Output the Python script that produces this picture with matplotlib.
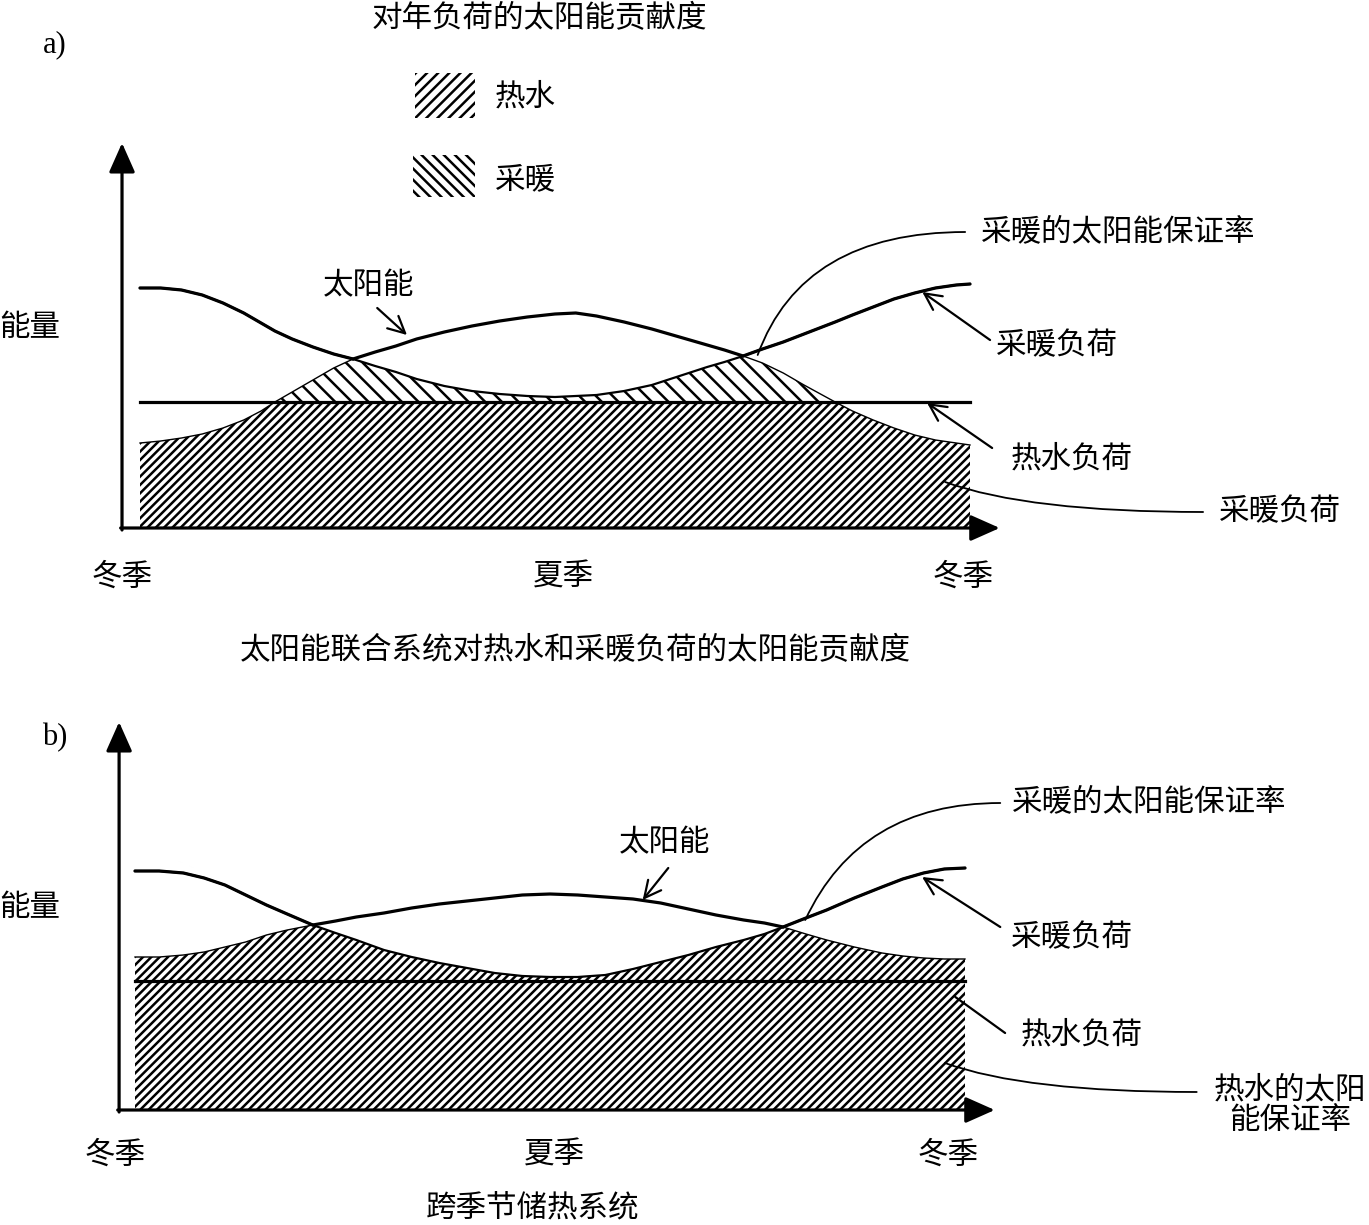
import matplotlib.pyplot as plt
import numpy as np
from matplotlib.patches import Rectangle

plt.rcParams["font.family"] = ["Noto Sans CJK SC", "DejaVu Sans"]
plt.rcParams["hatch.linewidth"] = 1.8

# x: months from winter (0) through summer (6) to winter (12); y: energy (arbitrary units)
# a) solar combi system
MONTHS_A = [0, 0.3, 0.6, 0.9, 1.2, 1.5, 1.75, 1.95, 2.2, 2.5, 2.8, 3.08, 3.4, 3.7, 4.0,
            4.4, 4.8, 5.2, 5.6, 6.0, 6.3, 6.6, 7.0, 7.4, 7.8, 8.2, 8.45, 8.72, 9.0, 9.3,
            9.6, 10.05, 10.3, 10.6, 10.9, 11.2, 11.5, 11.8, 12.0]
HEATING_A = [2.40, 2.40, 2.38, 2.33, 2.25, 2.15, 2.05, 1.97, 1.89, 1.81, 1.74, 1.69, 1.62,
             1.56, 1.49, 1.42, 1.37, 1.34, 1.32, 1.31, 1.32, 1.33, 1.37, 1.43, 1.52, 1.61,
             1.66, 1.72, 1.79, 1.86, 1.94, 2.06, 2.13, 2.21, 2.29, 2.35, 2.40, 2.43, 2.44]
SOLAR_A = [0.85, 0.87, 0.90, 0.94, 1.00, 1.08, 1.17, 1.26, 1.36, 1.48, 1.60, 1.69, 1.76,
           1.82, 1.89, 1.96, 2.02, 2.07, 2.11, 2.14, 2.15, 2.12, 2.06, 1.99, 1.91, 1.83,
           1.78, 1.72, 1.65, 1.55, 1.43, 1.26, 1.17, 1.08, 1.00, 0.93, 0.88, 0.85, 0.83]
HOT_WATER_A = 1.26

# b) seasonal storage system
MONTHS_B = [0, 0.35, 0.7, 1.0, 1.3, 1.6, 1.9, 2.2, 2.57, 2.9, 3.2, 3.6, 4.0, 4.4, 4.8,
            5.2, 5.6, 6.0, 6.4, 6.8, 7.2, 7.6, 8.0, 8.4, 8.8, 9.1, 9.37, 9.7, 10.0, 10.4,
            10.8, 11.1, 11.4, 11.7, 12.0]
HEATING_B = [2.39, 2.39, 2.37, 2.32, 2.25, 2.15, 2.05, 1.96, 1.85, 1.77, 1.70, 1.60, 1.53,
             1.47, 1.42, 1.37, 1.34, 1.33, 1.33, 1.35, 1.41, 1.48, 1.55, 1.63, 1.70, 1.76,
             1.83, 1.92, 2.00, 2.12, 2.23, 2.31, 2.37, 2.41, 2.42]
SOLAR_B = [1.53, 1.53, 1.55, 1.58, 1.63, 1.68, 1.75, 1.80, 1.85, 1.89, 1.93, 1.97, 2.02,
           2.06, 2.09, 2.12, 2.15, 2.16, 2.15, 2.13, 2.11, 2.07, 2.01, 1.95, 1.90, 1.87,
           1.83, 1.76, 1.70, 1.63, 1.57, 1.54, 1.52, 1.51, 1.51]
HOT_WATER_B = 1.29

SEASONS = ["冬季", "夏季", "冬季"]

PX_PER_MONTH = 830 / 12
PX_PER_UNIT = 100
FS = 22


def draw_curves(ax, months, heating, solar, water, upper_hatch):
    m = np.array(months)
    h = np.array(heating)
    s = np.array(solar)
    w = np.full_like(m, water)

    # hot water share and heating share of the solar energy
    ax.fill_between(m, 0, np.minimum(s, w), facecolor="none", edgecolor="black",
                    hatch="////", linewidth=0)
    top = np.minimum(s, h)
    ax.fill_between(m, w, top, where=top >= w, interpolate=True, facecolor="none",
                    edgecolor="black", hatch=upper_hatch, linewidth=0)

    ax.plot(m, s, color="black", lw=1.0)
    ax.plot(m, h, color="black", lw=1.6)
    ax.plot(m, np.where(s >= h, s, np.nan), color="black", lw=2.3, solid_capstyle="round")
    ax.plot(m, np.where(h >= s, h, np.nan), color="black", lw=2.3, solid_capstyle="round")
    ax.plot(m, w, color="black", lw=2.3)


def draw_axes_arrows(ax, x0, ytip, xtip):
    style = dict(arrowstyle="-|>,head_length=0.9,head_width=0.4", mutation_scale=20,
                 lw=2.3, color="black", shrinkA=0, shrinkB=0)
    ax.annotate("", xy=(x0, ytip), xytext=(x0, -0.02), arrowprops=style)
    ax.annotate("", xy=(xtip, 0), xytext=(x0 - 0.02, 0), arrowprops=style)


def pointer(ax, text_xy, target, head=True, conn="arc3,rad=0", lw=1.6):
    style = "->,head_length=0.6,head_width=0.3" if head else "-"
    ax.annotate("", xy=target, xytext=text_xy,
                arrowprops=dict(arrowstyle=style, mutation_scale=20, lw=lw, color="black",
                                shrinkA=0, shrinkB=0, connectionstyle=conn))


fig = plt.figure(figsize=(13.69, 12.25), dpi=100)

# ---- panel a ----
ax_a = fig.add_axes([0, 613 / 1225, 1, 612 / 1225])
ax_a.set_xlim(-140 / PX_PER_MONTH, (1369 - 140) / PX_PER_MONTH)
ax_a.set_ylim((528 - 612) / PX_PER_UNIT, 528 / PX_PER_UNIT)
ax_a.axis("off")

draw_curves(ax_a, MONTHS_A, HEATING_A, SOLAR_A, HOT_WATER_A, "\\\\")
draw_axes_arrows(ax_a, -0.26, 3.85, 12.43)

ax_a.text(5.78, 5.09, "对年负荷的太阳能贡献度", fontsize=FS, ha="center", va="center")
ax_a.text(-1.23, 4.83, "a)", fontsize=FS, ha="center", va="center", family="Liberation Serif")

ax_a.add_patch(Rectangle((3.98, 4.10), 0.87, 0.45, facecolor="none", edgecolor="black",
                         hatch="///", linewidth=0))
ax_a.text(5.57, 4.31, "热水", fontsize=FS, ha="center", va="center")
ax_a.add_patch(Rectangle((3.95, 3.31), 0.89, 0.42, facecolor="none", edgecolor="black",
                         hatch="\\\\\\", linewidth=0))
ax_a.text(5.57, 3.48, "采暖", fontsize=FS, ha="center", va="center")

ax_a.text(-1.59, 2.00, "能量", fontsize=FS, ha="center", va="center")

ax_a.text(3.30, 2.42, "太阳能", fontsize=FS, ha="center", va="center")
pointer(ax_a, (3.43, 2.20), (3.86, 1.93))

ax_a.text(14.14, 2.96, "采暖的太阳能保证率", fontsize=FS, ha="center", va="center")
pointer(ax_a, (11.93, 2.96), (8.93, 1.73), head=False, conn="angle3,angleA=0,angleB=70", lw=1.3)

ax_a.text(13.26, 1.82, "采暖负荷", fontsize=FS, ha="center", va="center")
pointer(ax_a, (12.29, 1.88), (11.31, 2.36))

ax_a.text(13.47, 0.69, "热水负荷", fontsize=FS, ha="center", va="center")
pointer(ax_a, (12.32, 0.80), (11.38, 1.25))

ax_a.text(16.48, 0.16, "采暖负荷", fontsize=FS, ha="center", va="center")
pointer(ax_a, (15.37, 0.16), (11.64, 0.46), head=False, conn="angle3,angleA=0,angleB=-20", lw=1.3)

for xpos, label in zip([-0.26, 6.12, 11.90], SEASONS):
    ax_a.text(xpos, -0.49, label, fontsize=FS, ha="center", va="center")

# ---- panel b ----
ax_b = fig.add_axes([0, 0, 1, 613 / 1225])
ax_b.set_xlim(-135 / PX_PER_MONTH, (1369 - 135) / PX_PER_MONTH)
ax_b.set_ylim((1110 - 1225) / PX_PER_UNIT, (1110 - 612) / PX_PER_UNIT)
ax_b.axis("off")

draw_curves(ax_b, MONTHS_B, HEATING_B, SOLAR_B, HOT_WATER_B, "////")
draw_axes_arrows(ax_b, -0.23, 3.88, 12.43)

ax_b.text(6.36, 4.59, "太阳能联合系统对热水和采暖负荷的太阳能贡献度", fontsize=FS,
          ha="center", va="center")
ax_b.text(-1.16, 3.72, "b)", fontsize=FS, ha="center", va="center", family="Liberation Serif")
ax_b.text(-1.52, 2.02, "能量", fontsize=FS, ha="center", va="center")

ax_b.text(7.66, 2.67, "太阳能", fontsize=FS, ha="center", va="center")
pointer(ax_b, (7.71, 2.42), (7.34, 2.10))

ax_b.text(14.67, 3.08, "采暖的太阳能保证率", fontsize=FS, ha="center", va="center")
pointer(ax_b, (12.51, 3.07), (9.69, 1.90), head=False, conn="angle3,angleA=0,angleB=65", lw=1.3)

ax_b.text(13.55, 1.72, "采暖负荷", fontsize=FS, ha="center", va="center")
pointer(ax_b, (12.51, 1.83), (11.38, 2.33))

ax_b.text(13.69, 0.75, "热水负荷", fontsize=FS, ha="center", va="center")
pointer(ax_b, (12.58, 0.77), (11.86, 1.13), head=False)

ax_b.text(16.70, 0.05, "热水的太阳\n能保证率", fontsize=FS, ha="center", va="center",
          linespacing=1.0)
pointer(ax_b, (15.35, 0.18), (11.71, 0.47), head=False, conn="angle3,angleA=0,angleB=-20", lw=1.3)

for xpos, label in zip([-0.29, 6.07, 11.75], SEASONS):
    ax_b.text(xpos, -0.45, label, fontsize=FS, ha="center", va="center")

ax_b.text(5.75, -0.98, "跨季节储热系统", fontsize=FS, ha="center", va="center")

fig.savefig("out.png", dpi=100)
plt.close(fig)
